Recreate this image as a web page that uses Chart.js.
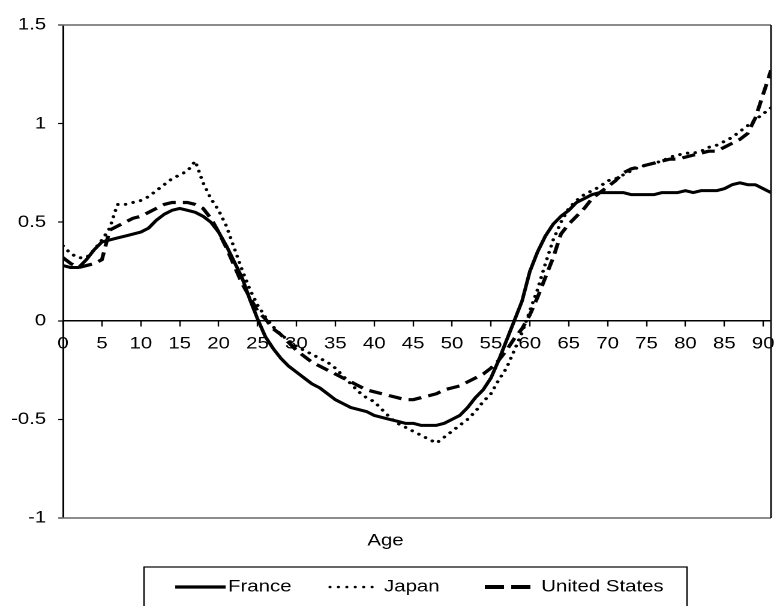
<!DOCTYPE html>
<html>
<head>
<meta charset="utf-8">
<script src="https://cdn.jsdelivr.net/npm/chart.js@4.4.0/dist/chart.umd.min.js"></script>
<style>
  html, body { margin: 0; padding: 0; background: #fff; overflow: hidden; }
  /* source figure is widened ~1.2x, so draw narrow and stretch */
  #wrap { width: 645px; height: 606px; transform: scaleX(1.2); transform-origin: 0 0; }
</style>
</head>
<body>
<div id="wrap"><canvas id="ageChart"></canvas></div>
<script>
const ages = [0, 1, 2, 3, 4, 5, 6, 7, 8, 9, 10, 11, 12, 13, 14, 15, 16, 17, 18, 19,
  20, 21, 22, 23, 24, 25, 26, 27, 28, 29, 30, 31, 32, 33, 34, 35, 36, 37, 38, 39,
  40, 41, 42, 43, 44, 45, 46, 47, 48, 49, 50, 51, 52, 53, 54, 55, 56, 57, 58, 59,
  60, 61, 62, 63, 64, 65, 66, 67, 68, 69, 70, 71, 72, 73, 74, 75, 76, 77, 78, 79,
  80, 81, 82, 83, 84, 85, 86, 87, 88, 89, 90, 91];

const france = [0.28, 0.27, 0.27, 0.31, 0.36, 0.40, 0.41, 0.42, 0.43, 0.44,
  0.45, 0.47, 0.51, 0.54, 0.56, 0.57, 0.56, 0.55, 0.53, 0.50,
  0.45, 0.38, 0.30, 0.22, 0.11, 0.01, -0.08, -0.14, -0.19, -0.23,
  -0.26, -0.29, -0.32, -0.34, -0.37, -0.40, -0.42, -0.44, -0.45, -0.46,
  -0.48, -0.49, -0.50, -0.51, -0.52, -0.52, -0.53, -0.53, -0.53, -0.52,
  -0.50, -0.48, -0.44, -0.39, -0.35, -0.29, -0.20, -0.10, 0.00, 0.10,
  0.25, 0.35, 0.43, 0.49, 0.53, 0.56, 0.60, 0.62, 0.64, 0.65,
  0.65, 0.65, 0.65, 0.64, 0.64, 0.64, 0.64, 0.65, 0.65, 0.65,
  0.66, 0.65, 0.66, 0.66, 0.66, 0.67, 0.69, 0.70, 0.69, 0.69,
  0.67, 0.65];

const japan = [0.38, 0.34, 0.32, 0.32, 0.36, 0.41, 0.47, 0.59, 0.59, 0.60,
  0.61, 0.63, 0.66, 0.69, 0.72, 0.74, 0.76, 0.81, 0.70, 0.62,
  0.56, 0.48, 0.37, 0.26, 0.16, 0.08, 0.02, -0.03, -0.07, -0.10,
  -0.13, -0.15, -0.17, -0.19, -0.21, -0.24, -0.28, -0.32, -0.36, -0.39,
  -0.41, -0.45, -0.49, -0.52, -0.54, -0.56, -0.58, -0.60, -0.62, -0.59,
  -0.56, -0.53, -0.50, -0.46, -0.41, -0.37, -0.30, -0.24, -0.15, -0.06,
  0.05, 0.16, 0.29, 0.41, 0.50, 0.57, 0.61, 0.64, 0.66, 0.68,
  0.71, 0.72, 0.74, 0.76, 0.78, 0.79, 0.80, 0.81, 0.83, 0.84,
  0.85, 0.85, 0.86, 0.88, 0.89, 0.91, 0.93, 0.96, 0.99, 1.02,
  1.05, 1.08];

const unitedStates = [0.32, 0.29, 0.27, 0.28, 0.29, 0.31, 0.46, 0.48, 0.50, 0.52,
  0.53, 0.55, 0.57, 0.59, 0.60, 0.60, 0.60, 0.59, 0.57, 0.52,
  0.45, 0.37, 0.28, 0.19, 0.12, 0.05, 0.01, -0.04, -0.07, -0.11,
  -0.15, -0.18, -0.21, -0.23, -0.25, -0.27, -0.29, -0.31, -0.33, -0.35,
  -0.36, -0.37, -0.38, -0.39, -0.40, -0.40, -0.39, -0.38, -0.37, -0.35,
  -0.34, -0.33, -0.31, -0.29, -0.27, -0.24, -0.20, -0.15, -0.09, -0.04,
  0.03, 0.12, 0.22, 0.32, 0.44, 0.49, 0.53, 0.57, 0.62, 0.65,
  0.68, 0.71, 0.75, 0.77, 0.78, 0.79, 0.80, 0.81, 0.82, 0.82,
  0.83, 0.84, 0.85, 0.86, 0.86, 0.88, 0.90, 0.92, 0.95, 1.03,
  1.15, 1.27];

const seriesNames = ['France', 'Japan', 'United States'];
const xTicks = [0, 5, 10, 15, 20, 25, 30, 35, 40, 45, 50, 55, 60, 65, 70, 75, 80, 85, 90];
const yTicks = [-1, -0.5, 0, 0.5, 1, 1.5];

const FONT = "'Liberation Sans', Arial, sans-serif";

// line looks (chart space is 1/1.2 wide, see css)
const looks = [
  { dash: [], width: 3, cap: 'butt', keyDash: [], keyWidth: 3.2, keyX: 146, keyLen: 42, textX: 190 },
  { dash: [0.01, 6.5], width: 3, cap: 'round', keyDash: [0.01, 7], keyWidth: 2.6, keyX: 275, keyLen: 36, textX: 320 },
  { dash: [11, 6], width: 3.2, cap: 'butt', keyDash: [16, 6], keyWidth: 4, keyX: 404, keyLen: 38, textX: 451 }
];

const allSeries = [france, japan, unitedStates];

// plot frame plus boxed key underneath
const frameAndKey = {
  id: 'frameAndKey',
  afterDraw(chart) {
    const { ctx, chartArea: a } = chart;
    ctx.save();
    ctx.lineWidth = 1.5;
    ctx.strokeStyle = '#666';
    ctx.beginPath();
    ctx.moveTo(a.left - 4, a.top); ctx.lineTo(a.right, a.top);
    ctx.moveTo(a.left - 4, a.bottom); ctx.lineTo(a.right, a.bottom);
    ctx.stroke();
    ctx.strokeStyle = '#111';
    ctx.beginPath();
    ctx.moveTo(a.right, a.top); ctx.lineTo(a.right, a.bottom);
    ctx.stroke();

    // key box
    ctx.lineWidth = 1.2;
    ctx.strokeStyle = '#000';
    ctx.strokeRect(120, 567, 452.5, 60);

    const keyY = 587;
    ctx.font = '17px ' + FONT;
    ctx.fillStyle = '#000';
    ctx.textBaseline = 'middle';
    ctx.textAlign = 'left';
    chart.data.datasets.forEach((ds, i) => {
      const lk = looks[i];
      ctx.setLineDash(lk.keyDash);
      ctx.lineCap = lk.cap;
      ctx.lineWidth = lk.keyWidth;
      ctx.beginPath();
      ctx.moveTo(lk.keyX, keyY);
      ctx.lineTo(lk.keyX + lk.keyLen, keyY);
      ctx.stroke();
      ctx.setLineDash([]);
      ctx.fillText(ds.label, lk.textX, keyY);
    });
    ctx.restore();
  }
};

new Chart(document.getElementById('ageChart'), {
  type: 'line',
  data: {
    datasets: allSeries.map((vals, i) => ({
      label: seriesNames[i],
      data: ages.map((a, j) => ({ x: a, y: vals[j] })),
      borderColor: '#000',
      borderWidth: looks[i].width,
      borderDash: looks[i].dash,
      borderCapStyle: looks[i].cap,
      borderJoinStyle: 'round',
      pointRadius: 0,
      tension: 0,
      fill: false
    }))
  },
  options: {
    responsive: true,
    maintainAspectRatio: false,
    animation: false,
    devicePixelRatio: 2,
    layout: { padding: { top: 25, right: 2.5, bottom: 54.8, left: 0 } },
    scales: {
      x: {
        type: 'linear',
        min: 0,
        max: 91,
        position: { y: 0 },
        afterBuildTicks: s => { s.ticks = xTicks.map(v => ({ value: v })); },
        // last label may hang past the frame, as in the source
        afterFit: s => { s.paddingRight = 0; s.paddingLeft = 0; },
        grid: { drawOnChartArea: false, drawTicks: true, tickLength: 5, tickColor: '#000', tickWidth: 1.2 },
        border: { color: '#000', width: 1.5 },
        ticks: {
          autoSkip: false, maxRotation: 0, padding: 8, color: '#000',
          font: { family: FONT, size: 17 },
          callback: v => String(v)
        }
      },
      y: {
        min: -1,
        max: 1.5,
        afterBuildTicks: s => { s.ticks = yTicks.map(v => ({ value: v })); },
        afterFit: s => { s.width = 52.5; },
        grid: { drawOnChartArea: false, drawTicks: true, tickLength: 4, tickColor: '#000', tickWidth: 1.2 },
        border: { color: '#000', width: 1.5 },
        ticks: {
          padding: 10, color: '#000',
          font: { family: FONT, size: 17 },
          callback: v => String(v)
        }
      }
    },
    plugins: {
      legend: { display: false },
      tooltip: { enabled: false },
      title: {
        display: true,
        position: 'bottom',
        text: 'Age',
        color: '#000',
        font: { family: FONT, size: 17, weight: 'normal' },
        padding: { top: 12.8, bottom: 0 }
      }
    }
  },
  plugins: [frameAndKey]
});
</script>
</body>
</html>
